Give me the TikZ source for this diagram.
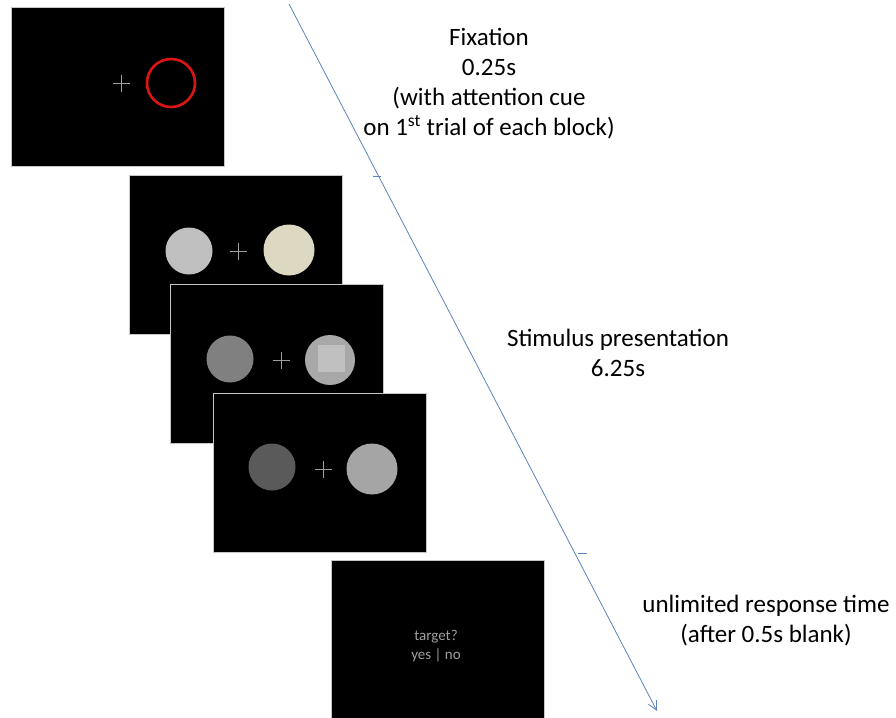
\documentclass[tikz,border=0pt]{standalone}
\usepackage{fontspec}
\setmainfont{Carlito}
\usetikzlibrary{arrows.meta}
\definecolor{arrowblue}{HTML}{5B84BE}
\definecolor{beige}{HTML}{DDD8C2}
\definecolor{g192}{RGB}{192,192,192}
\definecolor{g168}{RGB}{168,168,168}
\definecolor{g165}{RGB}{165,165,165}
\definecolor{g128}{RGB}{128,128,128}
\definecolor{g90}{RGB}{90,90,90}
\definecolor{cuered}{RGB}{220,20,20}
\tikzset{
  screen/.style={draw=gray!45, line width=0.6pt, fill=black, inner sep=0pt, minimum width=213pt, minimum height=159pt, anchor=north west},
  fixcross/.style={draw=gray!75!white, line width=0.8pt},
  lbl/.style={align=center, font=\fontsize{25}{30}\selectfont, inner sep=0pt},
  scrtext/.style={align=center, font=\fontsize{15}{19}\selectfont, text=gray!75!white, inner sep=0pt},
  disc/.style={circle, inner sep=0pt, minimum size=#1, draw=none},
}
\newcommand{\fixcr}[2]{\draw[fixcross] (#1-8.5,#2) -- (#1+8.5,#2) (#1,#2-8.5) -- (#1,#2+8.5);}
\begin{document}
\begin{tikzpicture}[x=1pt,y=-1pt]
\useasboundingbox[fill=white] (0,0) rectangle (896,717);
% screen 1
\node[screen] (s1) at (11,7) {};
\fixcr{121}{83}
\node[circle, draw=cuered, line width=2.6pt, minimum size=48pt, inner sep=0pt] (cue) at (171,83) {};
% screen 2
\node[screen] (s2) at (129,175) {};
\node[disc=47pt, fill=g192] (c2a) at (189,251) {};
\fixcr{238}{251}
\node[disc=51pt, fill=beige] (c2b) at (289,250) {};
% screen 3
\node[screen] (s3) at (170,284) {};
\node[disc=47pt, fill=g128] (c3a) at (230,359) {};
\fixcr{281}{360}
\node[disc=50pt, fill=g168] (c3b) at (330,360) {};
\node[draw=none, fill=g192, minimum size=27pt, inner sep=0pt] (sq) at (331,358) {};
% screen 4
\node[screen] (s4) at (213,393) {};
\node[disc=47pt, fill=g90] (c4a) at (272,467) {};
\fixcr{323}{469}
\node[disc=51pt, fill=g165] (c4b) at (372,469) {};
% screen 5 (runs off the bottom edge)
\node[screen, minimum height=170pt] (s5) at (331,560) {};
\node[scrtext] (resp) at (436,646) {target?\\yes | no};
% time arrow
\coordinate (tstart) at (289,4);
\coordinate (tend) at (657,711);
\draw[arrowblue, line width=0.8pt, -{Straight Barb[length=9pt,width=9pt]}] (tstart) -- (tend);
\coordinate (tk1a) at (373,176);
\coordinate (tk1b) at (381,176);
\coordinate (tk2a) at (578,553);
\coordinate (tk2b) at (587,553);
\draw[arrowblue, line width=0.8pt] (tk1a) -- (tk1b);
\draw[arrowblue, line width=0.8pt] (tk2a) -- (tk2b);
% labels
\node[lbl] (fix) at (489,84) {Fixation\\0.25s\\(with attention cue\\on 1\textsuperscript{st} trial of each block)};
\node[lbl] (stim) at (618,353) {Stimulus presentation\\6.25s};
\node[lbl] (unl) at (766,621) {unlimited response time\\(after 0.5s blank)};
\end{tikzpicture}
\end{document}
